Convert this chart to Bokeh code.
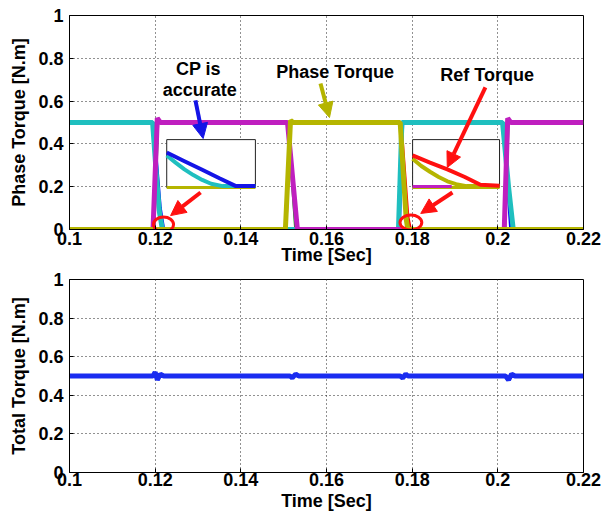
from bokeh.plotting import figure
from bokeh.models import Arrow, NormalHead, FixedTicker, Range1d, CustomJSTickFormatter
from bokeh.layouts import column
from bokeh.embed import file_html
from bokeh.resources import INLINE

FONT = "Liberation Sans"

# ---------------- data ----------------
x_ticks = [0.1, 0.12, 0.14, 0.16, 0.18, 0.2, 0.22]
y_ticks = [0, 0.2, 0.4, 0.6, 0.8, 1.0]

# Phase torques (measured)
t_cyan = [0.1, 0.1194, 0.1203, 0.1210, 0.1217, 0.1768, 0.1776, 0.2011, 0.2025, 0.2036, 0.22]
v_cyan = [0.5, 0.5, 0.25, 0.08, 0.0, 0.0, 0.5, 0.5, 0.2, 0.0, 0.0]
t_mag = [0.1, 0.1195, 0.1205, 0.1212, 0.1509, 0.1532, 0.2015, 0.2023, 0.2030, 0.22]
v_mag = [0.0, 0.0, 0.52, 0.5, 0.5, 0.0, 0.0, 0.52, 0.5, 0.5]
t_yel = [0.1, 0.1504, 0.1516, 0.1522, 0.1772, 0.1786, 0.1790, 0.22]
v_yel = [0.0, 0.0, 0.51, 0.5, 0.5, 0.05, 0.0, 0.0]

# Reference torques (mostly hidden beneath)
t_blue = [0.1, 0.1196, 0.1212, 0.1220, 0.1770, 0.1778, 0.2013, 0.2030, 0.22]
v_blue = [0.5, 0.5, 0.1, 0.0, 0.0, 0.5, 0.5, 0.0, 0.0]
t_green = [0.1, 0.1197, 0.1206, 0.1511, 0.1528, 0.2016, 0.2024, 0.22]
v_green = [0.0, 0.0, 0.5, 0.5, 0.0, 0.0, 0.5, 0.5]
t_red = [0.1, 0.1505, 0.1516, 0.1774, 0.1790, 0.1796, 0.22]
v_red = [0.0, 0.0, 0.5, 0.5, 0.06, 0.0, 0.0]

# Total torque
t_total = [0.1, 0.1195, 0.1200, 0.1205, 0.1212, 0.1220, 0.1515, 0.1520, 0.1528, 0.1535,
           0.1772, 0.1778, 0.1785, 0.1790, 0.2018, 0.2025, 0.2032, 0.2040, 0.22]
v_total = [0.5, 0.5, 0.52, 0.48, 0.51, 0.5, 0.5, 0.49, 0.51, 0.5,
           0.5, 0.49, 0.51, 0.5, 0.5, 0.48, 0.51, 0.5, 0.5]

# Inset boxes (data coords of the top axes)
inset1_box = [0.1227, 0.1434, 0.196, 0.42]
inset2_box = [0.1801, 0.2004, 0.196, 0.42]
# Inset contents in local (0..1) coordinates
in1_blue_u = [0.0, 0.2, 0.4, 0.6, 0.78, 1.0]
in1_blue_v = [0.73, 0.55, 0.37, 0.19, 0.03, 0.03]
in1_cyan_u = [0.0, 0.1, 0.2, 0.3, 0.4, 0.5, 0.63, 1.0]
in1_cyan_v = [0.67, 0.52, 0.38, 0.26, 0.16, 0.08, 0.03, 0.03]
in1_yel_u = [0.0, 1.0]
in1_yel_v = [0.0, 0.0]
in2_red_u = [0.0, 0.2, 0.4, 0.6, 0.78, 1.0]
in2_red_v = [0.67, 0.52, 0.38, 0.22, 0.06, 0.04]
in2_yel_u = [0.0, 0.1, 0.2, 0.3, 0.4, 0.5, 0.62, 1.0]
in2_yel_v = [0.6, 0.45, 0.33, 0.22, 0.13, 0.07, 0.03, 0.03]
in2_mag_u = [0.0, 0.45]
in2_mag_v = [0.02, 0.02]

# Annotations
notes = [("CP is", 0.1301, 0.748), ("accurate", 0.1304, 0.650),
         ("Phase Torque", 0.1620, 0.734), ("Ref Torque", 0.1975, 0.724)]
arrows = [  # x0, y0, x1, y1, color
    (0.1294, 0.603, 0.1312, 0.425, "#1414e6"),
    (0.1586, 0.682, 0.1607, 0.523, "#b4b400"),
    (0.1971, 0.664, 0.1882, 0.290, "#ff1010"),
    (0.1306, 0.173, 0.1236, 0.065, "#ff1010"),
    (0.1894, 0.173, 0.1820, 0.075, "#ff1010"),
]
circles = [(0.12195, 0.023, 0.0047, 0.07), (0.1797, 0.033, 0.0051, 0.07)]

CYAN = "#1fbfbf"
MAG = "#bf1fbf"
YEL = "#b5b500"
BLUE = "#1a2cf0"


def style(p, ylabel, tick_standoff, label_standoff):
    p.xaxis.axis_label = "Time [Sec]"
    p.yaxis.axis_label = ylabel
    for ax in (p.xaxis, p.yaxis):
        ax.axis_label_text_font = FONT
        ax.axis_label_text_font_style = "bold"
        ax.axis_label_text_font_size = "18px"
        ax.major_label_text_font = FONT
        ax.major_label_text_font_style = "bold"
        ax.major_label_text_font_size = "18px"
        ax.major_label_text_color = "black"
        ax.axis_label_text_color = "black"
        ax.major_tick_out = 0
        ax.major_tick_in = 4
        ax.minor_tick_out = 0
        ax.minor_tick_in = 0
        ax.axis_line_color = "black"
        ax.major_tick_line_color = "black"
        ax.formatter = CustomJSTickFormatter(code="return String(Math.round(tick*100)/100);")
    p.xaxis.ticker = FixedTicker(ticks=x_ticks)
    p.yaxis.ticker = FixedTicker(ticks=y_ticks)
    p.xaxis.major_label_standoff = tick_standoff
    p.yaxis.major_label_standoff = 6
    p.xaxis.axis_label_standoff = label_standoff
    p.yaxis.axis_label_standoff = 6
    p.xgrid.ticker = FixedTicker(ticks=x_ticks)
    p.ygrid.ticker = FixedTicker(ticks=y_ticks)
    for g in (p.xgrid, p.ygrid):
        g.grid_line_color = "#222222"
        g.grid_line_dash = "1 3"
        g.grid_line_width = 1
    p.outline_line_color = "black"
    p.outline_line_width = 1
    p.outline_line_alpha = 1
    p.background_fill_color = "white"
    p.border_fill_color = "white"


# ---------------- top figure ----------------
p1 = figure(width=605, height=268, output_backend="svg", toolbar_location=None,
            x_range=Range1d(0.1, 0.22), y_range=Range1d(0, 1),
            min_border_left=69, min_border_right=22, min_border_top=15, min_border_bottom=39)
style(p1, "Phase Torque [N.m]", 2, -3)

p1.line(t_blue, v_blue, line_color="#0000ff", line_width=3)
p1.line(t_green, v_green, line_color="#00a000", line_width=3)
p1.line(t_red, v_red, line_color="#ff0000", line_width=3)
p1.line(t_cyan, v_cyan, line_color=CYAN, line_width=5)
p1.line(t_mag, v_mag, line_color=MAG, line_width=5)
p1.line(t_yel, v_yel, line_color=YEL, line_width=5)


def mapbox(box, us, vs):
    x0, x1, y0, y1 = box
    return [x0 + u * (x1 - x0) for u in us], [y0 + v * (y1 - y0) for v in vs]


for box in (inset1_box, inset2_box):
    p1.quad(left=box[0], right=box[1], bottom=box[2], top=box[3],
            fill_color="white", line_color="#222222", line_width=1)

xs, ys = mapbox(inset1_box, in1_yel_u, in1_yel_v)
p1.line(xs, ys, line_color=YEL, line_width=3)
xs, ys = mapbox(inset1_box, in1_cyan_u, in1_cyan_v)
p1.line(xs, ys, line_color=CYAN, line_width=4)
xs, ys = mapbox(inset1_box, in1_blue_u, in1_blue_v)
p1.line(xs, ys, line_color="#1414e6", line_width=4)

xs, ys = mapbox(inset2_box, [0.0, 1.0], [0.0, 0.0])
p1.line(xs, ys, line_color=YEL, line_width=3)
xs, ys = mapbox(inset2_box, in2_mag_u, in2_mag_v)
p1.line(xs, ys, line_color=MAG, line_width=3)
xs, ys = mapbox(inset2_box, in2_yel_u, in2_yel_v)
p1.line(xs, ys, line_color=YEL, line_width=4)
xs, ys = mapbox(inset2_box, in2_red_u, in2_red_v)
p1.line(xs, ys, line_color="#ff1010", line_width=4)

for (x0, y0, x1, y1, c) in arrows:
    p1.add_layout(Arrow(end=NormalHead(size=15, fill_color=c, line_color=c),
                        x_start=x0, y_start=y0, x_end=x1, y_end=y1,
                        line_color=c, line_width=4))

for (cx, cy, w, h) in circles:
    p1.ellipse(x=cx, y=cy, width=w, height=h, fill_alpha=0,
               line_color="#ff1010", line_width=3)

p1.text(x=[n[1] for n in notes], y=[n[2] for n in notes], text=[n[0] for n in notes],
        text_font={"value": FONT}, text_font_style="bold", text_font_size="18px",
        text_align="center", text_baseline="middle", text_color="black")

# ---------------- bottom figure ----------------
p2 = figure(width=605, height=246, output_backend="svg", toolbar_location=None,
            x_range=Range1d(0.1, 0.22), y_range=Range1d(0, 1),
            min_border_left=69, min_border_right=15, min_border_top=11, min_border_bottom=42)
style(p2, "Total Torque [N.m]", 0, 2)
p2.line(t_total, v_total, line_color=BLUE, line_width=5)

layout = column(p1, p2, spacing=0)
open("out.html", "w").write(file_html(layout, INLINE))
